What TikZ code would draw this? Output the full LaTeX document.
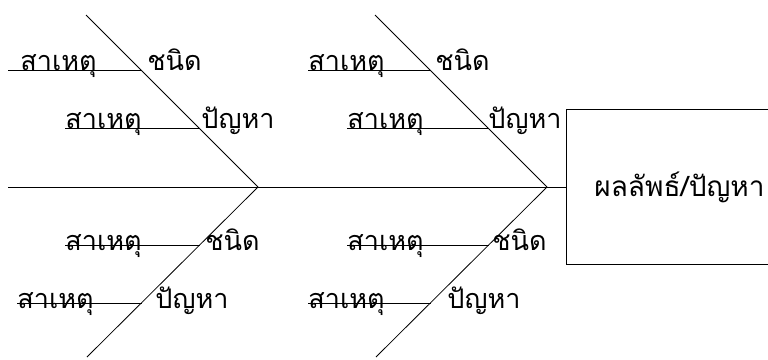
\documentclass[tikz,border=0pt]{standalone}
\usepackage{fontspec}
\newfontfamily\thaifont[Script=Thai]{Loma}
\usetikzlibrary{positioning,calc}

\begin{document}
\begin{tikzpicture}[x=1pt,y=-1pt,line width=0.8pt,
  every node/.style={font=\thaifont\fontsize{27}{32}\selectfont,inner sep=0pt},
  cause/.style={anchor=base west},
  kind/.style={anchor=base west},
  effectbox/.style={draw,anchor=west,minimum height=155pt,inner xsep=28pt,text width=220pt,
    font=\thaifont\fontsize{28}{33}\selectfont}]
  \useasboundingbox (0,0) rectangle (768,359);

  % head and spine
  \node (effect) [effectbox] at (566,187) {ผลลัพธ์/ปัญหา};
  \coordinate (tail) at (8,187);
  \draw (tail) -- (effect.west);

  % bones
  \coordinate (ja) at (258,187);
  \coordinate (jb) at (547,187);
  \draw (ja) -- ++(-172,-172);
  \draw (ja) -- ++(-171,170);
  \draw (jb) -- ++(-172,-172);
  \draw (jb) -- ++(-171,170);

  % points on the bones
  \coordinate (a1) at ($(ja)+(-117,-117)$);
  \coordinate (a2) at ($(ja)+(-59,-59)$);
  \coordinate (a3) at ($(ja)+(-58,58)$);
  \coordinate (a4) at ($(ja)+(-116,116)$);
  \coordinate (b1) at ($(jb)+(-117,-117)$);
  \coordinate (b2) at ($(jb)+(-59,-59)$);
  \coordinate (b3) at ($(jb)+(-58,58)$);
  \coordinate (b4) at ($(jb)+(-116,116)$);

  % causes, first bone
  \node (ca1) [cause] at (20,70) {สาเหตุ};
  \node (ca2) [cause] at (65,128) {สาเหตุ};
  \node (ca3) [cause] at (65,250) {สาเหตุ};
  \node (ca4) [cause] at (17,308) {สาเหตุ};
  \draw ($(ca1.base west)+(-12,0)$) -- (a1);
  \draw (ca2.base west |- a2) -- (a2);
  \draw (ca3.base west |- a3) -- (a3);
  \draw (ca4.base west |- a4) -- (a4);

  \node (ka1) [kind] at ($(a1)+(6,0)$) {ชนิด};
  \node (ka2) [kind] at ($(a2)+(2,0)$) {ปัญหา};
  \node (ka3) [kind] at ($(a3)+(5,5)$) {ชนิด};
  \node (ka4) [kind] at ($(a4)+(13,5)$) {ปัญหา};

  % causes, second bone
  \node (cb1) [cause] at (308,70) {สาเหตุ};
  \node (cb2) [cause] at (347,128) {สาเหตุ};
  \node (cb3) [cause] at (347,250) {สาเหตุ};
  \node (cb4) [cause] at (308,308) {สาเหตุ};
  \draw (cb1.base west |- b1) -- (b1);
  \draw (cb2.base west |- b2) -- (b2);
  \draw (cb3.base west |- b3) -- (b3);
  \draw (cb4.base west |- b4) -- (b4);

  \node (kb1) [kind] at ($(b1)+(5,0)$) {ชนิด};
  \node (kb2) [kind] at ($(b2)+(0,0)$) {ปัญหา};
  \node (kb3) [kind] at ($(b3)+(3,5)$) {ชนิด};
  \node (kb4) [kind] at ($(b4)+(16,5)$) {ปัญหา};
\end{tikzpicture}
\end{document}
